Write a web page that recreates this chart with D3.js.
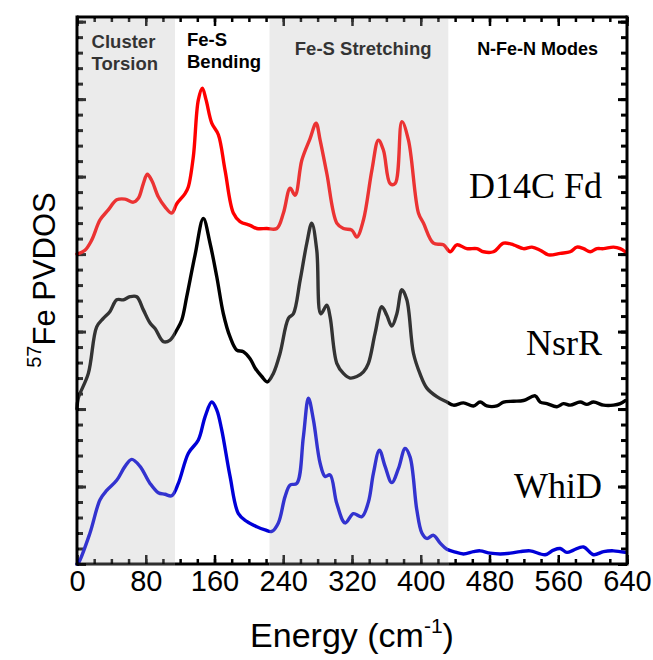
<!DOCTYPE html>
<html><head><meta charset="utf-8">
<script src="https://cdn.jsdelivr.net/npm/d3@7"></script>
<style>body{margin:0;background:#fff}</style>
</head><body>
<svg id="chart" width="653" height="660"></svg>
<script>
// Energy (cm^-1) and intensity (relative to each trace's own baseline)
const d14cE = [0,9.3,17.1,26.8,36.4,46.2,55.9,65.5,71.4,77.2,81.8,87.0,94.6,102.4,110.2,116.1,125.7,129.6,135.4,141.2,145.9,150.2,156.8,164.5,172.3,181.9,189.7,201.4,209.2,220.8,232.5,240.2,248.0,253.8,261.6,271.2,278.2,282.9,290.7,302.3,310.0,319.8,325.6,333.3,343.1,350.7,356.6,364.4,370.2,378.0,385.7,397.3,403.1,414.8,426.4,434.2,442.0,453.6,465.3,473.0,484.6,496.3,507.9,519.5,529.3,539.0,548.6,562.3,573.9,581.7,589.4,597.2,605.0,612.7,624.3,632.1,637.9];
const d14cI = [0,0.05,0.18,0.44,0.57,0.70,0.71,0.67,0.72,0.91,1.03,0.95,0.74,0.61,0.53,0.65,0.78,0.87,1.26,1.99,2.14,1.99,1.69,1.54,1.08,0.53,0.42,0.37,0.33,0.33,0.33,0.53,0.85,0.76,1.21,1.49,1.69,1.47,1.04,0.40,0.33,0.31,0.22,0.44,1.08,1.47,1.34,0.91,0.91,1.71,1.47,0.53,0.40,0.14,0.12,0.03,0.12,0.07,0.07,0.03,0.03,0.14,0.12,0.07,0.09,0.05,-0.01,0.01,0.03,0.09,0.07,0.03,0.07,0.07,0.09,0.07,0.03];

const nsrrE = [0,1.5,13.2,22.9,30.6,38.4,46.2,53.9,61.7,69.5,77.2,85.0,90.8,100.5,108.3,116.1,121.9,127.7,137.4,147.0,154.8,162.6,170.3,178.1,185.9,193.6,201.4,207.2,215.0,221.5,228.5,236.3,246.0,251.8,259.6,267.4,273.2,279.0,283.7,290.7,294.5,302.3,310.0,317.8,325.6,333.3,339.1,346.9,354.7,360.5,366.3,372.2,378.0,383.8,391.5,399.3,407.1,418.7,430.4,438.1,449.7,461.3,469.1,476.9,488.6,496.3,507.9,519.5,533.2,539.0,546.8,558.4,566.1,573.9,585.5,593.3,601.0,612.7,624.3,632.1,637.9];
const nsrrI = [0,0.14,0.46,1.06,1.17,1.26,1.41,1.41,1.45,1.45,1.28,1.11,1.04,0.87,0.89,1.02,1.15,1.45,1.99,2.46,2.14,1.71,1.23,0.93,0.76,0.74,0.65,0.53,0.42,0.35,0.46,0.72,1.17,1.23,1.66,2.14,2.40,2.05,1.23,1.34,1.19,0.59,0.46,0.40,0.42,0.48,0.59,0.98,1.32,1.21,1.07,1.23,1.54,1.41,0.72,0.45,0.27,0.16,0.09,0.05,0.08,0.04,0.09,0.04,0.04,0.09,0.10,0.11,0.17,0.09,0.07,0.03,0.07,0.05,0.09,0.06,0.09,0.05,0.05,0.07,0.11];

const whidE = [0,1.5,15.1,26.8,34.6,46.2,55.9,63.7,73.3,85.0,94.6,102.4,110.2,117.9,129.6,141.2,149.0,156.8,162.6,168.4,178.1,187.8,197.5,209.2,218.8,226.6,234.3,242.1,248.0,255.8,263.4,269.3,275.1,282.9,288.7,294.5,302.3,312.0,321.6,331.4,339.1,344.9,351.9,358.5,366.3,374.0,381.8,387.6,395.4,401.3,407.1,414.8,422.6,430.4,438.1,449.7,461.3,469.1,480.8,492.4,504.1,515.7,527.3,544.8,554.5,562.3,570.1,577.8,589.4,601.0,612.7,624.3,637.9];
const whidI = [0,0.01,0.40,0.83,0.95,1.08,1.26,1.35,1.26,1.04,0.92,0.90,0.88,1.04,1.43,1.60,1.90,2.09,1.99,1.73,1.13,0.65,0.55,0.48,0.44,0.42,0.53,0.87,1.02,1.04,1.64,2.14,1.86,1.30,1.13,1.15,0.78,0.53,0.65,0.61,0.80,1.17,1.47,1.26,1.05,1.23,1.49,1.38,0.70,0.40,0.33,0.37,0.27,0.19,0.16,0.13,0.16,0.17,0.14,0.13,0.14,0.16,0.17,0.12,0.18,0.20,0.15,0.18,0.22,0.12,0.16,0.17,0.15];

const seriesNames = ["D14C Fd", "NsrR", "WhiD"];
const seriesOffsets = [4, 2, 0];
const seriesColors = ["#ff0000", "#000000", "#0000d8"];
const labelY = [4.72, 2.7, 0.85];

const xTicks = [0, 80, 160, 240, 320, 400, 480, 560, 640];
const regionStart = [0, 114, 224, 432];
const regionEnd = [114, 224, 432, 640];
const regionShaded = [true, false, true, false];

const W = 653, H = 660;
const L = 77, R = 627, T = 17, B = 564;
const svg = d3.select("#chart");
const x = d3.scaleLinear().domain([0, 640]).range([L, R]);
const y = d3.scaleLinear().domain([0, 7.06]).range([B, T]);

const allSeries = [
  d14cE.map((e, i) => [e, d14cI[i]]),
  nsrrE.map((e, i) => [e, nsrrI[i]]),
  whidE.map((e, i) => [e, whidI[i]])
];

// axes (ticks inward)
function styleAxis(g, w) {
  g.select(".domain").remove();
  g.selectAll("line").attr("stroke", "#000").attr("stroke-width", w);
}
const minorX = d3.range(0, 641, 20);
const minorY = d3.range(0, 7.01, 0.2);
const majorY = d3.range(0, 7.01, 1);

svg.append("g").attr("transform", `translate(0,${B})`)
  .call(d3.axisBottom(x).tickValues(minorX).tickSize(-5).tickFormat(""))
  .call(g => styleAxis(g, 2.5));
svg.append("g").attr("transform", `translate(0,${B})`)
  .call(d3.axisBottom(x).tickValues(xTicks).tickSize(-9).tickPadding(6).tickFormat(d3.format("d")))
  .call(g => styleAxis(g, 2.5))
  .call(g => g.selectAll("text").attr("font-family", "'Liberation Sans', Arial, sans-serif")
     .attr("font-size", 29).attr("fill", "#000").attr("dy", "0.71em"));
svg.append("g").attr("transform", `translate(0,${T})`)
  .call(d3.axisTop(x).tickValues(minorX).tickSize(-5).tickFormat(""))
  .call(g => styleAxis(g, 2.5));
svg.append("g").attr("transform", `translate(0,${T})`)
  .call(d3.axisTop(x).tickValues(xTicks).tickSize(-9).tickFormat(""))
  .call(g => styleAxis(g, 2.5));
svg.append("g").attr("transform", `translate(${L},0)`)
  .call(d3.axisLeft(y).tickValues(minorY).tickSize(-6).tickFormat(""))
  .call(g => styleAxis(g, 3));
svg.append("g").attr("transform", `translate(${L},0)`)
  .call(d3.axisLeft(y).tickValues(majorY).tickSize(-9).tickFormat(""))
  .call(g => styleAxis(g, 3));
svg.append("g").attr("transform", `translate(${R},0)`)
  .call(d3.axisRight(y).tickValues(minorY).tickSize(-6).tickFormat(""))
  .call(g => styleAxis(g, 3));
svg.append("g").attr("transform", `translate(${R},0)`)
  .call(d3.axisRight(y).tickValues(majorY).tickSize(-9).tickFormat(""))
  .call(g => styleAxis(g, 3));

// traces
const line = d3.line().x(d => x(d[0])).y(d => y(d[1])).curve(d3.curveCatmullRom.alpha(0.5));
allSeries.forEach((s, i) => {
  svg.append("path")
    .datum(s.map(d => [d[0], d[1] + seriesOffsets[i]]))
    .attr("d", line)
    .attr("fill", "none")
    .attr("stroke", seriesColors[i])
    .attr("stroke-width", 3.4)
    .attr("stroke-linejoin", "round")
    .attr("stroke-linecap", "round");
});

// region titles
const fontB = "'Liberation Sans', Arial, sans-serif";
function addText(tx, ty, str, anchor, size) {
  svg.append("text").attr("x", tx).attr("y", ty).text(str)
    .attr("font-family", fontB).attr("font-weight", "bold")
    .attr("font-size", size).attr("text-anchor", anchor).attr("fill", "#000");
}
addText(x(17), 48, "Cluster", "start", 18.5);
addText(x(17), 70, "Torsion", "start", 18.5);
addText(x(128), 46, "Fe-S", "start", 18.5);
addText(x(128), 68, "Bending", "start", 18.5);
addText(x(333), 55, "Fe-S Stretching", "middle", 18.5);
addText(x(536), 55, "N-Fe-N Modes", "middle", 18);

// shaded overlays
regionStart.forEach((s, i) => {
  if (!regionShaded[i]) return;
  svg.append("rect")
    .attr("x", Math.max(x(s), L + 2)).attr("y", T + 2)
    .attr("width", x(regionEnd[i]) - Math.max(x(s), L + 2)).attr("height", B + 2 - T - 2)
    .attr("fill", "#b6b6b6").attr("fill-opacity", 0.28);
});

// frame lines
svg.append("line").attr("x1", L).attr("x2", L).attr("y1", T - 1.5).attr("y2", B + 1.5).attr("stroke", "#000").attr("stroke-width", 3);
svg.append("line").attr("x1", R).attr("x2", R).attr("y1", T - 1.5).attr("y2", B + 1.5).attr("stroke", "#000").attr("stroke-width", 3);
svg.append("line").attr("x1", L).attr("x2", R).attr("y1", T).attr("y2", T).attr("stroke", "#000").attr("stroke-width", 3);
svg.append("line").attr("x1", x(regionEnd[0])).attr("x2", x(regionStart[2])).attr("y1", B).attr("y2", B).attr("stroke", "#000").attr("stroke-width", 3);
svg.append("line").attr("x1", x(regionStart[3])).attr("x2", R).attr("y1", B).attr("y2", B).attr("stroke", "#000").attr("stroke-width", 3);
svg.append("line").attr("x1", L).attr("x2", x(regionEnd[0])).attr("y1", B).attr("y2", B).attr("stroke", "#000").attr("stroke-width", 3).attr("stroke-opacity", 0.8);
svg.append("line").attr("x1", x(regionStart[2])).attr("x2", x(regionEnd[2])).attr("y1", B).attr("y2", B).attr("stroke", "#000").attr("stroke-width", 3).attr("stroke-opacity", 0.8);

// series labels
seriesNames.forEach((n, i) => {
  svg.append("text").attr("x", 602).attr("y", y(labelY[i])).text(n)
    .attr("font-family", "'Liberation Serif', 'Times New Roman', serif")
    .attr("font-size", 36).attr("text-anchor", "end").attr("fill", "#000");
});

// axis titles
const xl = svg.append("text").attr("x", 352).attr("y", 647)
  .attr("font-family", fontB).attr("font-size", 34).attr("text-anchor", "middle").attr("fill", "#000");
xl.append("tspan").text("Energy (cm");
xl.append("tspan").attr("font-size", 21).attr("dy", -14).text("-1");
xl.append("tspan").attr("dy", 14).text(")");

const yl = svg.append("text").attr("transform", "translate(55,280) rotate(-90)")
  .attr("font-family", fontB).attr("font-size", 31).attr("text-anchor", "middle").attr("fill", "#000");
yl.append("tspan").attr("font-size", 20).attr("dy", -14).text("57");
yl.append("tspan").attr("dy", 14).text("Fe PVDOS");
</script>
</body></html>
